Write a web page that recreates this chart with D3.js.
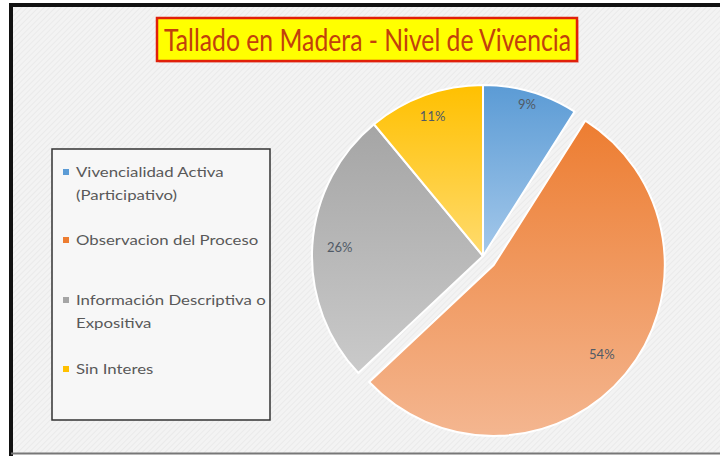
<!DOCTYPE html>
<html>
<head>
<meta charset="utf-8">
<script src="https://cdn.jsdelivr.net/npm/d3@7"></script>
<style>
  body { margin: 0; background: #fff; }
  svg { display: block; }
</style>
</head>
<body>
<div id="chart"></div>
<script>
// chart data
var categories = ["Vivencialidad Activa (Participativo)", "Observacion del Proceso", "Información Descriptiva o Expositiva", "Sin Interes"];
var legendLines = [["Vivencialidad Activa", "(Participativo)"], ["Observacion del Proceso"], ["Información Descriptiva o", "Expositiva"], ["Sin Interes"]];
var values = [9, 54, 26, 11];
var valueLabels = ["9%", "54%", "26%", "11%"];
var title = "Tallado en Madera - Nivel de Vivencia";

var colorsTop = ["#5b9bd5", "#ed7d31", "#a5a5a5", "#ffc000"];
var colorsBottom = ["#a4c8ea", "#f4b690", "#cacaca", "#ffdb6e"];

var svgWidth = 720;
var svgHeight = 456;

var svg = d3.select("#chart")
  .append("svg")
  .attr("width", svgWidth)
  .attr("height", svgHeight);

var defs = svg.append("defs");

// faint hatch texture of the background
var pat = defs.append("pattern")
  .attr("id", "hatch")
  .attr("width", 4)
  .attr("height", 4)
  .attr("patternUnits", "userSpaceOnUse")
  .attr("patternTransform", "rotate(45)");
pat.append("rect").attr("width", 4).attr("height", 4).attr("fill", "#f3f3f3");
pat.append("line").attr("x1", 0).attr("y1", 0).attr("x2", 0).attr("y2", 4)
  .attr("stroke", "#e8e8e8").attr("stroke-width", 1.5);

// frame
svg.append("rect")
  .attr("x", 11).attr("y", 5)
  .attr("width", 712).attr("height", 448)
  .attr("fill", "url(#hatch)");
svg.append("line").attr("x1", 9).attr("x2", 720).attr("y1", 5).attr("y2", 5)
  .attr("stroke", "#111").attr("stroke-width", 4);
svg.append("line").attr("x1", 11).attr("x2", 11).attr("y1", 3).attr("y2", 456)
  .attr("stroke", "#111").attr("stroke-width", 4);
svg.append("line").attr("x1", 11).attr("x2", 720).attr("y1", 453.5).attr("y2", 453.5)
  .attr("stroke", "#777").attr("stroke-width", 2);

// title box
svg.append("rect")
  .attr("x", 159).attr("y", 20)
  .attr("width", 420).attr("height", 43)
  .attr("fill", "#e8a0a0").attr("opacity", 0.5);
svg.append("rect")
  .attr("x", 157).attr("y", 18)
  .attr("width", 420).attr("height", 43)
  .attr("fill", "#ffff00")
  .attr("stroke", "#e0200a")
  .attr("stroke-width", 2.5);
svg.append("text")
  .attr("x", 164).attr("y", 51)
  .attr("font-family", "Lato, 'Open Sans', sans-serif")
  .attr("font-size", 31)
  .attr("fill", "#c2400c")
  .attr("textLength", 407)
  .attr("lengthAdjust", "spacingAndGlyphs")
  .text(title);

// pie
var cx = 483, cy = 256, radius = 171;
var pie = d3.pie().sort(null).value(d => d);
var arc = d3.arc().innerRadius(0).outerRadius(radius);
var arcs = pie(values);

arcs.forEach(function(d, i) {
  var g = defs.append("linearGradient")
    .attr("id", "grad" + i)
    .attr("x1", 0).attr("y1", 0).attr("x2", 0).attr("y2", 1);
  g.append("stop").attr("offset", "0%").attr("stop-color", colorsTop[i]);
  g.append("stop").attr("offset", "100%").attr("stop-color", colorsBottom[i]);
});

var explode = [0, 14, 0, 0];

var pieGroup = svg.append("g")
  .attr("transform", `translate(${cx}, ${cy})`);

var slices = pieGroup.selectAll("g.slice")
  .data(arcs)
  .enter()
  .append("g")
  .attr("class", "slice")
  .attr("transform", function(d, i) {
    var mid = (d.startAngle + d.endAngle) / 2;
    return `translate(${Math.sin(mid) * explode[i]}, ${-Math.cos(mid) * explode[i]})`;
  });

slices.append("path")
  .attr("d", arc)
  .attr("fill", (d, i) => `url(#grad${i})`)
  .attr("stroke", "#fff")
  .attr("stroke-width", 2)
  .attr("stroke-linejoin", "round");

// label distance from centre, as a share of the radius
var labelRadius = [0.92, 0.82, 0.84, 0.87];
function labelPos(d, i) {
  var r = radius * labelRadius[i];
  return d3.arc().innerRadius(r).outerRadius(r).centroid(d);
}
slices.append("text")
  .attr("x", (d, i) => labelPos(d, i)[0])
  .attr("y", (d, i) => labelPos(d, i)[1])
  .attr("dy", "0.35em")
  .attr("text-anchor", "middle")
  .attr("font-family", "Lato, 'Open Sans', sans-serif")
  .attr("font-size", 13)
  .attr("fill", "#505a66")
  .text((d, i) => valueLabels[i]);

// legend
var legend = svg.append("g");
legend.append("rect")
  .attr("x", 52).attr("y", 149)
  .attr("width", 218).attr("height", 271)
  .attr("fill", "#f7f7f7")
  .attr("stroke", "#333")
  .attr("stroke-width", 1.5);

var legendY = [172, 240, 300, 369];
var items = legend.selectAll("g.item")
  .data(categories)
  .enter()
  .append("g")
  .attr("class", "item")
  .attr("transform", (d, i) => `translate(66, ${legendY[i]})`);

items.append("rect")
  .attr("x", -3).attr("y", -3)
  .attr("width", 6).attr("height", 6)
  .attr("fill", (d, i) => colorsTop[i]);

items.append("text")
  .attr("transform", "translate(10, 0) scale(1.2, 1)")
  .attr("font-family", "Lato, 'Open Sans', sans-serif")
  .attr("font-size", 14)
  .attr("fill", "#595959")
  .selectAll("tspan")
  .data((d, i) => legendLines[i])
  .enter()
  .append("tspan")
  .attr("x", 0)
  .attr("y", (d, j) => j * 23)
  .attr("dy", "0.35em")
  .text(d => d);
</script>
</body>
</html>
